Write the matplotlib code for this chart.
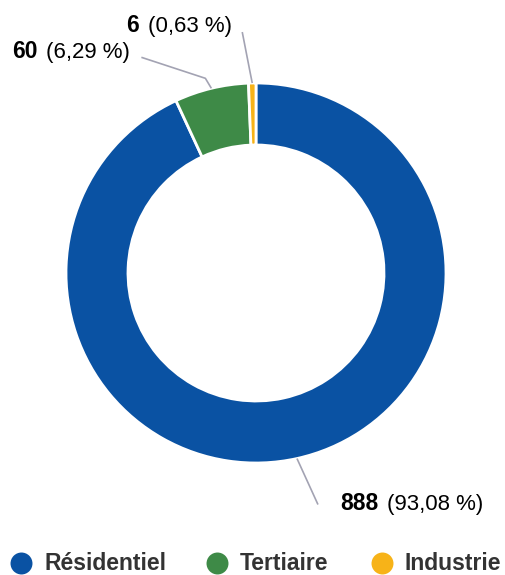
import matplotlib.pyplot as plt
import numpy as np

plt.rcParams['font.family'] = ['Liberation Sans', 'DejaVu Sans']

categories = ['Résidentiel', 'Tertiaire', 'Industrie']
values = [888, 60, 6]
percents = ['93,08 %', '6,29 %', '0,63 %']
colors = ['#0A52A3', '#3E8A47', '#F7B318']

W, H = 505, 575
fig = plt.figure(figsize=(W / 100, H / 100), dpi=100)
ax = fig.add_axes([0, 0, 1, 1])

cx, cy, R, ring = 256, H - 273, 190, 62
wedges, _ = ax.pie(values, colors=colors, startangle=90, counterclock=False,
                   center=(cx, cy), radius=R,
                   wedgeprops=dict(width=ring, edgecolor='white', linewidth=2))
ax.set_xlim(0, W)
ax.set_ylim(0, H)
ax.set_aspect('equal')
ax.axis('off')

# leader line offsets (elbow, end) relative to the anchor, and label baseline position
lead = [((21, -46), (21, -46), (340, 510)),
        ((-6, 10), (-70, 31), (12, 58)),
        ((-2, 10), (-10, 51), (126, 32))]

fig.canvas.draw()
rend = fig.canvas.get_renderer()
for w, v, p, (e1, e2, (lx, ly)) in zip(wedges, values, percents, lead):
    mid = np.deg2rad((w.theta1 + w.theta2) / 2)
    ax_ = cx + R * np.cos(mid)
    ay_ = cy + R * np.sin(mid)
    xs = [ax_, ax_ + e1[0], ax_ + e2[0]]
    ys = [ay_, ay_ + e1[1], ay_ + e2[1]]
    ax.plot(xs, ys, color='#A3A3B3', lw=1.2, solid_capstyle='butt')
    t = ax.text(lx, H - ly, str(v), fontsize=16.5, fontweight='bold',
                ha='left', va='baseline', color='black')
    bb = t.get_window_extent(rend)
    ax.text(bb.x1 + 9, H - ly, '(' + p + ')', fontsize=16,
            ha='left', va='baseline', color='black')

# legend
lx = [21, 217, 382]
for x0, c, name in zip(lx, colors, categories):
    ax.scatter([x0], [H - 563], s=250, color=c, linewidths=0)
    ax.text(x0 + 23, H - 563, name, fontsize=16.5, fontweight='bold',
            color='#333333', ha='left', va='center')

fig.savefig('out.png', dpi=100)
